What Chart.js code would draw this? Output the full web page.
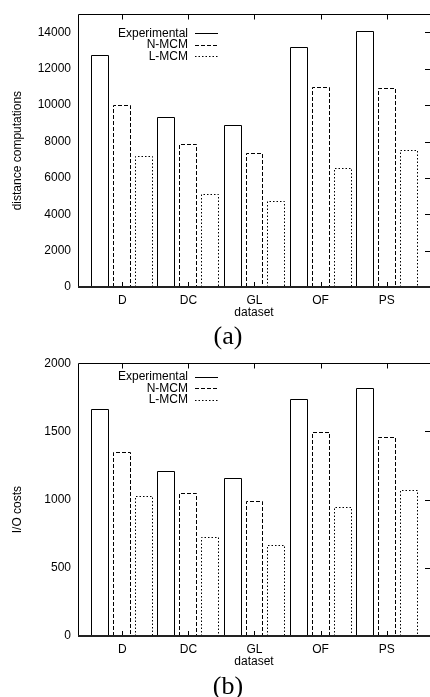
<!DOCTYPE html>
<html><head><meta charset="utf-8">
<script src="https://cdn.jsdelivr.net/npm/chart.js@4/dist/chart.umd.min.js"></script>
<style>
html,body{margin:0;padding:0;background:#fff;overflow:hidden;width:430px;height:697px}
.wrap{position:absolute;left:0;width:430px;height:322px}
canvas{display:block}
.cap{position:absolute;left:0;width:456px;text-align:center;font-family:"Liberation Serif","DejaVu Serif",serif;font-size:26px;line-height:26px;color:#000}
</style></head><body>
<div class="wrap" style="top:0"><canvas id="c1" width="430" height="322"></canvas></div>
<div class="cap" style="top:323px">(a)</div>
<div class="wrap" style="top:349px"><canvas id="c2" width="430" height="322"></canvas></div>
<div class="cap" style="top:673px">(b)</div>
<script>
// ---- data ----
const categories = ['D', 'DC', 'GL', 'OF', 'PS'];
const seriesNames = ['Experimental', 'N-MCM', 'L-MCM'];

const distExperimental = [12770, 9330, 8890, 13220, 14090];
const distNMCM         = [10010, 7840, 7380, 10990, 10940];
const distLMCM         = [7190, 5100, 4720, 6530, 7550];

const ioExperimental = [1667, 1212, 1157, 1734, 1817];
const ioNMCM         = [1348, 1048, 990, 1493, 1459];
const ioLMCM         = [1027, 725, 664, 947, 1072];

const distTicks = [0, 2000, 4000, 6000, 8000, 10000, 12000, 14000];
const ioTicks = [0, 500, 1000, 1500, 2000];

// ---- styling ----
Chart.defaults.font.family = '"Liberation Sans", Arial, sans-serif';
Chart.defaults.font.size = 12;
Chart.defaults.color = '#000';

const dashes = [[], [4, 2], [1.5, 2]];

const outline = {
  id: 'outline',
  afterDatasetsDraw(chart) {
    const ctx = chart.ctx;
    chart.data.datasets.forEach((ds, i) => {
      const meta = chart.getDatasetMeta(i);
      ctx.save();
      ctx.strokeStyle = '#000';
      ctx.lineWidth = 1;
      ctx.setLineDash(ds.dash);
      meta.data.forEach(el => {
        const p = el.getProps(['x', 'y', 'base', 'width'], true);
        const l = Math.round(p.x - p.width / 2) + 0.5;
        const r = Math.round(p.x + p.width / 2) - 0.5;
        const t = Math.round(p.y) + 0.5;
        const b = Math.round(p.base);
        ctx.beginPath();
        ctx.moveTo(l, b); ctx.lineTo(l, t); ctx.lineTo(r, t); ctx.lineTo(r, b);
        ctx.stroke();
      });
      ctx.restore();
    });
  }
};

const frame = {
  id: 'frame',
  afterDatasetsDraw(chart) {
    const {ctx, chartArea: a, scales: {x, y}} = chart;
    ctx.save();
    ctx.strokeStyle = '#000';
    ctx.lineWidth = 1;
    ctx.beginPath();
    const L = Math.round(a.left) + 0.5, T = Math.round(a.top) + 0.5;
    ctx.moveTo(L, a.bottom); ctx.lineTo(L, T); ctx.lineTo(a.right, T);
    x.ticks.forEach(t => {
      const px = Math.round(x.getPixelForValue(t.value)) + 0.5;
      ctx.moveTo(px, T); ctx.lineTo(px, T + 5);
      ctx.moveTo(px, a.bottom); ctx.lineTo(px, a.bottom - 5);
    });
    y.ticks.forEach(t => {
      const py = Math.round(y.getPixelForValue(t.value)) + 0.5;
      if (py > T + 1) { ctx.moveTo(a.right, py); ctx.lineTo(a.right - 5, py); }
    });
    ctx.stroke();
    ctx.beginPath();
    ctx.lineWidth = 2;
    ctx.strokeStyle = '#222';
    ctx.moveTo(a.left, Math.round(a.bottom)); ctx.lineTo(a.right, Math.round(a.bottom));
    ctx.stroke();
    ctx.restore();
  }
};

const keyLegend = {
  id: 'keyLegend',
  afterDraw(chart, args, opts) {
    const {ctx, chartArea: a} = chart;
    ctx.save();
    ctx.font = '12px "Liberation Sans", Arial, sans-serif';
    ctx.fillStyle = '#000';
    ctx.textAlign = 'right';
    ctx.textBaseline = 'middle';
    chart.data.datasets.forEach((ds, i) => {
      const tx = a.left + opts.x;
      const ty = a.top + opts.y + i * opts.dy;
      ctx.fillText(ds.label, tx, ty);
      ctx.beginPath();
      ctx.setLineDash(ds.dash);
      ctx.lineWidth = 1;
      ctx.strokeStyle = '#000';
      const ly = Math.round(ty) + 0.5;
      ctx.moveTo(tx + 7, ly); ctx.lineTo(tx + 30, ly);
      ctx.stroke();
    });
    ctx.restore();
  }
};

function makeChart(id, values, yMax, yTicks, yTitle, legendY) {
  return new Chart(document.getElementById(id), {
    type: 'bar',
    data: {
      datasets: values.map((vals, i) => ({
        label: seriesNames[i],
        data: vals.map((v, k) => ({x: k, y: v})),
        backgroundColor: 'rgba(0,0,0,0)',
        borderWidth: 0,
        dash: dashes[i],
        categoryPercentage: 0.997,
        barPercentage: 0.818
      }))
    },
    options: {
      responsive: false,
      animation: false,
      layout: {padding: {top: 10, left: 0, right: 0, bottom: 0}},
      plugins: {legend: {display: false}, tooltip: {enabled: false},
        keyLegend: {x: 110, y: legendY, dy: 11.6}},
      scales: {
        x: {
          type: 'linear', min: -0.67, max: 4.655, offset: false,
          grid: {display: false, drawTicks: false, offset: false}, border: {display: false},
          afterBuildTicks: s => { s.ticks = categories.map((c, i) => ({value: i})); },
          afterFit: s => { s.height = 35; },
          ticks: {padding: 6, autoSkip: false, maxRotation: 0, callback: v => categories[v]},
          title: {display: true, text: 'dataset', padding: {top: 0, bottom: 2}}
        },
        y: {
          min: 0, max: yMax,
          grid: {display: false, drawTicks: false}, border: {display: false},
          afterBuildTicks: s => { s.ticks = yTicks.map(v => ({value: v})); },
          afterFit: s => { s.width = 78; },
          ticks: {padding: 7, autoSkip: false, callback: v => String(v)},
          title: {display: true, text: yTitle, padding: {top: 10, bottom: 0}}
        }
      }
    },
    plugins: [outline, frame, keyLegend]
  });
}

makeChart('c1', [distExperimental, distNMCM, distLMCM], 15000, distTicks, 'distance computations', 19);
makeChart('c2', [ioExperimental, ioNMCM, ioLMCM], 2000, ioTicks, 'I/O costs      ', 13.5);
</script>
</body></html>
